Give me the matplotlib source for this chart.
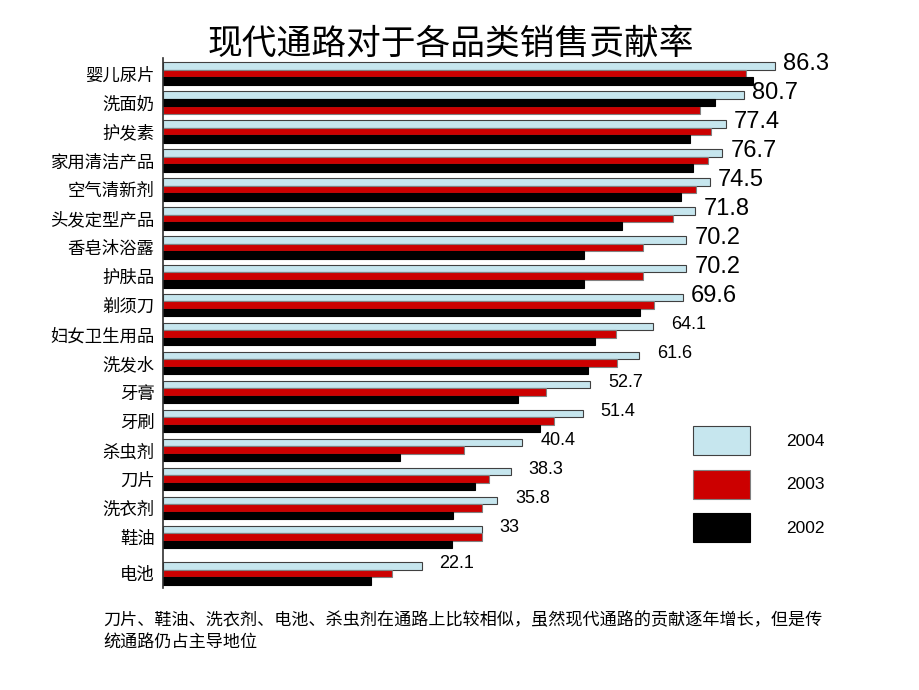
import numpy as np
import matplotlib
matplotlib.use("Agg")
import matplotlib.pyplot as plt

plt.rcParams['font.family'] = ['Noto Sans CJK SC', 'DejaVu Sans']

# 数据
categories = ["婴儿尿片", "洗面奶", "护发素", "家用清洁产品", "空气清新剂", "头发定型产品",
              "香皂沐浴露", "护肤品", "剃须刀", "妇女卫生用品", "洗发水", "牙膏",
              "牙刷", "杀虫剂", "刀片", "洗衣剂", "鞋油", "电池"]
v2004 = [86.3, 80.7, 77.4, 76.7, 74.5, 71.8, 70.2, 70.2, 69.6, 64.1, 61.6, 52.7,
         51.4, 40.4, 38.3, 35.8, 33, 22.1]
v2003 = [81.1, 72.8, 74.8, 74.1, 71.9, 67.8, 62.3, 62.3, 64.3, 57.5, 57.7, 44.7,
         46.1, 29.9, 34.4, 33.1, 33.0, 16.8]
v2002 = [82.4, 75.4, 70.9, 71.5, 69.3, 58.5, 51.7, 51.7, 61.8, 53.6, 52.4, 39.6,
         43.6, 18.1, 31.8, 27.9, 27.7, 12.9]
years = ["2004", "2003", "2002"]

title = "现代通路对于各品类销售贡献率"
note1 = "刀片、鞋油、洗衣剂、电池、杀虫剂在通路上比较相似，虽然现代通路的贡献逐年增长，但是传"
note2 = "统通路仍占主导地位"

colors = ["#c6e6ee", "#cc0000", "#000000"]
edges = ["#404040", "#808080", "#000000"]

base = -24.9  # left edge of the plot in data units
n = len(categories)
ypos = np.arange(n, dtype=float)
ypos[-1] += 0.25
bh = 0.259

fig = plt.figure(figsize=(9.2, 6.9), dpi=100)
ax = fig.add_axes([0.1772, 0.148, 0.6924, 0.768])

offs = np.array([-bh, 0.0, bh])
off2003 = np.full(n, offs[1])
off2002 = np.full(n, offs[2])
# the second group has 2002 and 2003 swapped in the original
off2003[1], off2002[1] = offs[2], offs[1]

series = [np.array(v2004), np.array(v2003), np.array(v2002)]
offsets = [np.full(n, offs[0]), off2003, off2002]
handles = []
for vals, off, c, ec, lab in zip(series, offsets, colors, edges, years):
    h = ax.barh(ypos + off, vals - base, left=base, height=bh, color=c,
                edgecolor=ec, linewidth=0.8, label=lab)
    handles.append(h)

big = 9
for i, v in enumerate(v2004):
    fs = 17 if i < big else 13
    dx = 6 if i < big else 13
    ax.annotate(f"{v:g}", xy=(v, ypos[i] - 0.33), xytext=(dx, 0),
                textcoords="offset points", va="center", ha="left",
                fontsize=fs, family=["Liberation Sans", "DejaVu Sans"])

ax.set_xlim(base, 90.9)
ax.set_ylim(17.75, -0.53)
ax.set_yticks(ypos)
ax.set_yticklabels(categories, fontsize=12.5)
ax.tick_params(axis="y", length=0, pad=6)
ax.set_xticks([])
for s in ["top", "right", "bottom"]:
    ax.spines[s].set_visible(False)
ax.spines["left"].set_color("#303030")
ax.spines["left"].set_linewidth(1.2)

fig.legend(handles=handles, labels=years, loc="upper left",
           bbox_to_anchor=(684 / 920, 1 - 417 / 690), frameon=False,
           handlelength=3.3, handleheight=2.2,
           handletextpad=2.1, labelspacing=0.85, borderpad=0,
           prop={"family": ["Liberation Sans", "DejaVu Sans"], "size": 12.5})

fig.text(0.49, 1 - 44 / 690, title, ha="center", va="center", fontsize=25)
fig.text(103 / 920, 1 - 620 / 690, note1, ha="left", va="center", fontsize=12.3)
fig.text(103 / 920, 1 - 643 / 690, note2, ha="left", va="center", fontsize=12.3)

fig.savefig("out.png", dpi=100)
